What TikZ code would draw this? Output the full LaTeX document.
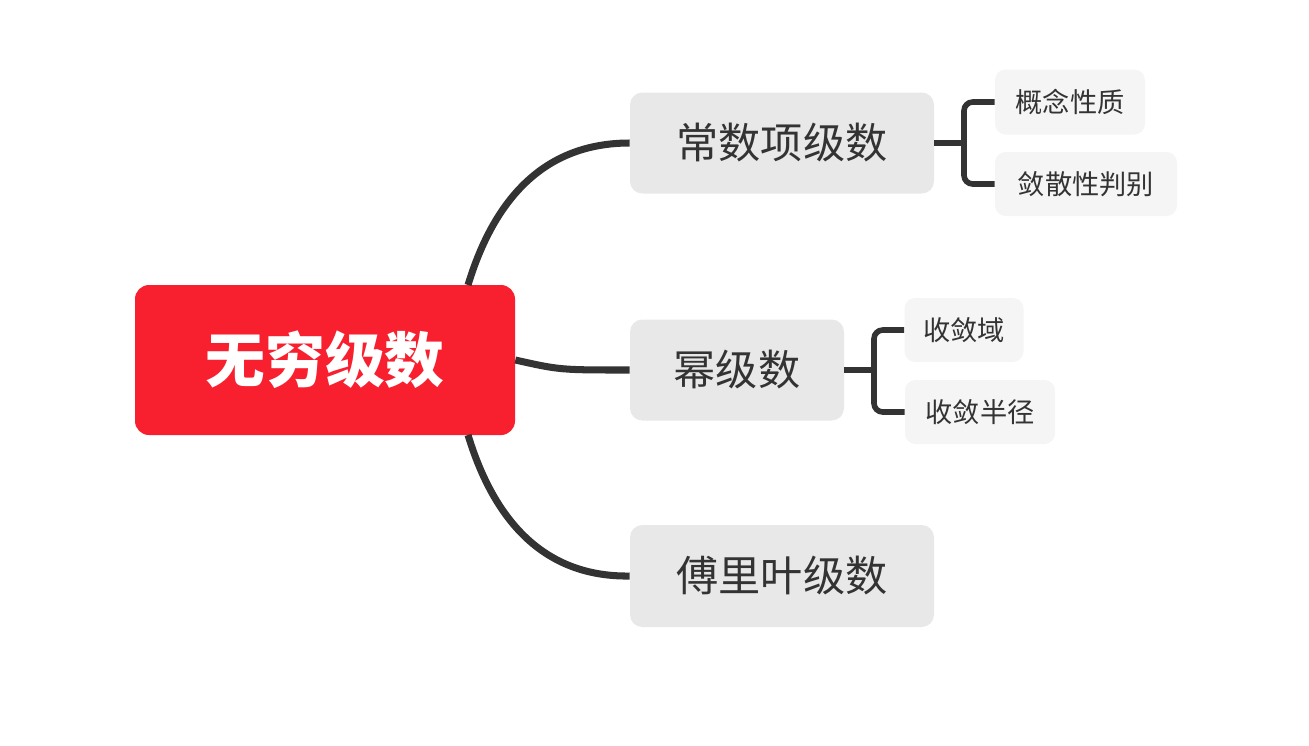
\documentclass[tikz,border=0pt]{standalone}
\usepackage{fontspec}
\newfontfamily\cjk{Noto Sans CJK SC}
\begin{document}
\begin{tikzpicture}[x=0.02cm,y=-0.02cm,
  root/.style={fill=rootred,rounded corners=8pt,text=white,font=\cjk\fontsize{34}{40}\selectfont\bfseries,inner sep=0},
  sub/.style={fill=subgray,rounded corners=7pt,text=txt,font=\cjk\fontsize{24}{28}\selectfont,inner sep=0},
  leaf/.style={fill=leafgray,rounded corners=6pt,text=txt,font=\cjk\fontsize{15.5}{18}\selectfont,inner sep=0},
  conn/.style={draw=txt,line width=4pt},
  br/.style={draw=txt,line width=3.2pt,rounded corners=5pt}]
\definecolor{rootred}{HTML}{F8202E}
\definecolor{subgray}{HTML}{E8E8E8}
\definecolor{leafgray}{HTML}{F5F5F5}
\definecolor{txt}{HTML}{333333}
\useasboundingbox (0,0) rectangle (1309,745);
\node[root,minimum width=380*0.02cm,minimum height=150*0.02cm] (r) at (325,360) {无穷级数};
\node[sub,minimum width=304*0.02cm,minimum height=101*0.02cm] (a) at (782,143) {常数项级数};
\node[sub,minimum width=214*0.02cm,minimum height=101*0.02cm] (b) at (737,370) {幂级数};
\node[sub,minimum width=304*0.02cm,minimum height=102*0.02cm] (c) at (782,576) {傅里叶级数};
\node[leaf,minimum width=150*0.02cm,minimum height=65*0.02cm] (a1) at (1070,102) {概念性质};
\node[leaf,minimum width=182*0.02cm,minimum height=64*0.02cm] (a2) at (1086,184) {敛散性判别};
\node[leaf,minimum width=119*0.02cm,minimum height=64*0.02cm] (b1) at (964,330) {收敛域};
\node[leaf,minimum width=150*0.02cm,minimum height=64*0.02cm] (b2) at (980,412) {收敛半径};
\coordinate (r1) at (468,285);
\coordinate (r3) at (468,435);
\draw[conn] (r1) .. controls (500,180) and (560,143) .. (a.west);
\draw[conn] (r.east) .. controls (560,370) .. (b.west);
\draw[conn] (r3) .. controls (500,540) and (560,577) .. (c.west);
\draw[br] (a.east) -- (964,143);
\draw[br] (a1.west) -- (964,102) -- (964,184) -- (a2.west);
\draw[br] (b.east) -- (874,370);
\draw[br] (b1.west) -- (874,330) -- (874,412) -- (b2.west);
\end{tikzpicture}
\end{document}
